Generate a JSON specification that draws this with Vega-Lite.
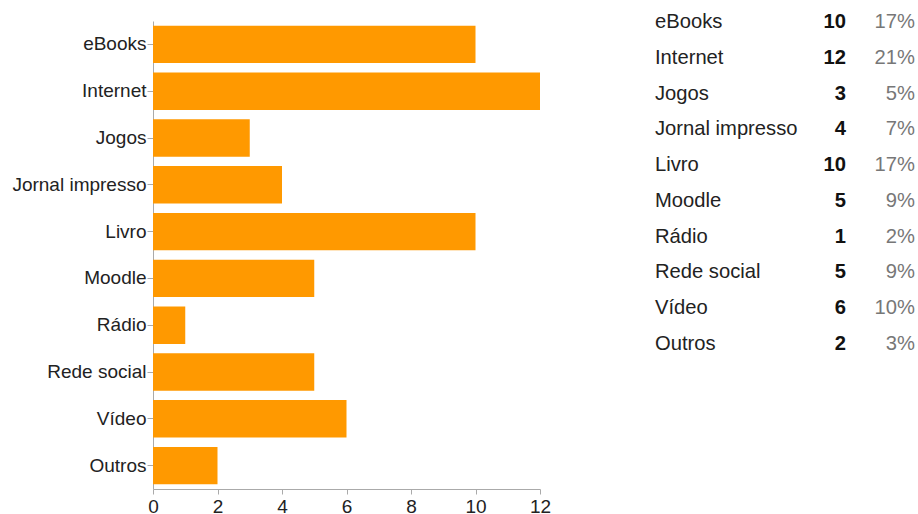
{
  "$schema": "https://vega.github.io/schema/vega-lite/v6.json",
  "background": "white",
  "padding": {"left": 11, "top": 12, "right": 0, "bottom": 0},
  "spacing": 104,
  "config": {
    "view": {"stroke": null},
    "font": "Liberation Sans"
  },
  "data": {
    "values": [
      {"cat": "eBooks", "n": 10, "pct": "17%"},
      {"cat": "Internet", "n": 12, "pct": "21%"},
      {"cat": "Jogos", "n": 3, "pct": "5%"},
      {"cat": "Jornal impresso", "n": 4, "pct": "7%"},
      {"cat": "Livro", "n": 10, "pct": "17%"},
      {"cat": "Moodle", "n": 5, "pct": "9%"},
      {"cat": "Rádio", "n": 1, "pct": "2%"},
      {"cat": "Rede social", "n": 5, "pct": "9%"},
      {"cat": "Vídeo", "n": 6, "pct": "10%"},
      {"cat": "Outros", "n": 2, "pct": "3%"}
    ]
  },
  "hconcat": [
    {
      "width": 387,
      "height": 468,
      "mark": {"type": "bar", "color": "#FF9900"},
      "encoding": {
        "y": {
          "field": "cat", "type": "nominal", "sort": null,
          "scale": {"paddingInner": 0.2, "paddingOuter": 0.1},
          "axis": {"title": null, "labelFontSize": 19, "labelColor": "#222222", "labelPadding": 1, "tickSize": 6, "tickColor": "#aaaaaa", "domainColor": "#aaaaaa", "labelFont": "Liberation Sans"}
        },
        "x": {
          "field": "n", "type": "quantitative",
          "scale": {"domain": [0, 12], "nice": false},
          "axis": {"title": null, "values": [0, 2, 4, 6, 8, 10, 12], "grid": false, "labelFontSize": 19, "labelColor": "#222222", "labelPadding": 3, "tickSize": 5, "tickColor": "#aaaaaa", "domainColor": "#aaaaaa", "labelFont": "Liberation Sans", "labelFlush": false}
        }
      }
    },
    {
      "width": 260,
      "height": 324,
      "encoding": {
        "y": {"field": "cat", "type": "nominal", "sort": null, "scale": {"type": "point", "padding": 0, "range": [1, 323]}, "axis": null}
      },
      "layer": [
        {
          "mark": {"type": "text", "align": "left", "baseline": "middle", "fontSize": 20.2, "color": "#222222"},
          "encoding": {
            "x": {"datum": 0, "type": "quantitative", "scale": {"domain": [0, 260], "nice": false, "zero": false}, "axis": null},
            "text": {"field": "cat"}
          }
        },
        {
          "mark": {"type": "text", "align": "right", "baseline": "middle", "fontSize": 20.2, "fontWeight": "bold", "color": "#111111"},
          "encoding": {
            "x": {"datum": 191, "type": "quantitative"},
            "text": {"field": "n"}
          }
        },
        {
          "mark": {"type": "text", "align": "right", "baseline": "middle", "fontSize": 20.2, "color": "#777777"},
          "encoding": {
            "x": {"datum": 260, "type": "quantitative"},
            "text": {"field": "pct"}
          }
        }
      ]
    }
  ]
}
